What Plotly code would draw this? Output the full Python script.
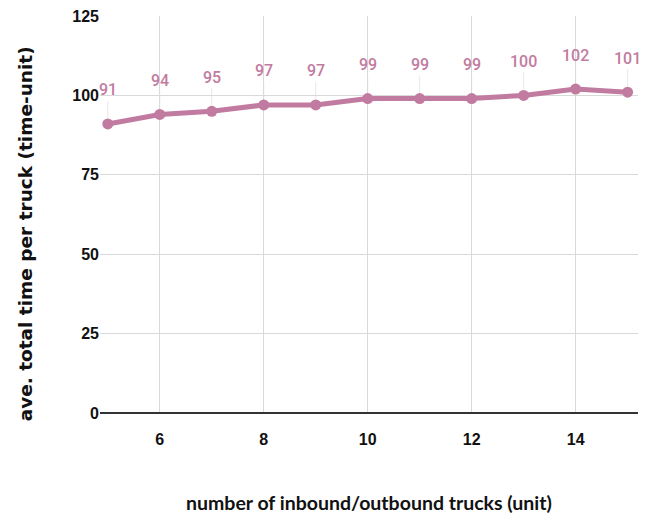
import plotly.graph_objects as go

trucks = [5, 6, 7, 8, 9, 10, 11, 12, 13, 14, 15]
avg_time = [91, 94, 95, 97, 97, 99, 99, 99, 100, 102, 101]
x_ticks = [6, 8, 10, 12, 14]
y_ticks = [0, 25, 50, 75, 100, 125]

line_color = "#c27ba0"

fig = go.Figure()
fig.add_trace(go.Scatter(
    x=trucks, y=avg_time, mode="lines+markers",
    line=dict(color=line_color, width=5),
    marker=dict(color=line_color, size=11),
    hoverinfo="skip", showlegend=False,
))

annotations = []
for xv, yv in zip(trucks, avg_time):
    annotations.append(dict(
        x=xv, y=yv, xref="x", yref="y", text=str(yv),
        showarrow=True, arrowhead=0, arrowwidth=0.7, arrowcolor="#dddddd",
        ax=0, ay=-34, standoff=6,
        font=dict(family="Roboto", size=16, color=line_color, weight=500),
    ))

annotations.append(dict(
    text="number of inbound/outbound trucks (unit)",
    xref="paper", yref="paper", x=0.5, y=0, xanchor="center", yanchor="middle",
    yshift=-89, showarrow=False,
    font=dict(family="Lato", size=19.5, color="#111111", weight="bold"),
))
annotations.append(dict(
    text="ave. total time per truck (time-unit)",
    xref="paper", yref="paper", x=0, y=0.45, xanchor="center", yanchor="middle",
    xshift=-75, textangle=-90, showarrow=False,
    font=dict(family="DejaVu Sans", size=18.5, color="#111111", weight="bold"),
))

fig.update_layout(
    width=655, height=520,
    margin=dict(l=92, r=25, t=8, b=115, autoexpand=False),
    plot_bgcolor="white", paper_bgcolor="white",
    annotations=annotations,
    xaxis=dict(
        range=[4.85, 15.2], tickvals=x_ticks, automargin=False,
        showgrid=True, gridcolor="#d9d9d9", gridwidth=1,
        zeroline=False, showline=False,
        ticks="outside", ticklen=12, tickcolor="rgba(0,0,0,0)",
        tickfont=dict(family="Liberation Sans", size=16, color="#111111", weight="bold"),
    ),
    yaxis=dict(
        range=[0, 125], tickvals=y_ticks, automargin=False,
        showgrid=True, gridcolor="#d9d9d9", gridwidth=1,
        zeroline=True, zerolinecolor="#333333", zerolinewidth=2,
        showline=False, ticklabeloverflow="allow",
        tickfont=dict(family="Liberation Sans", size=16, color="#111111", weight="bold"),
    ),
)

fig.write_html("out.html")
